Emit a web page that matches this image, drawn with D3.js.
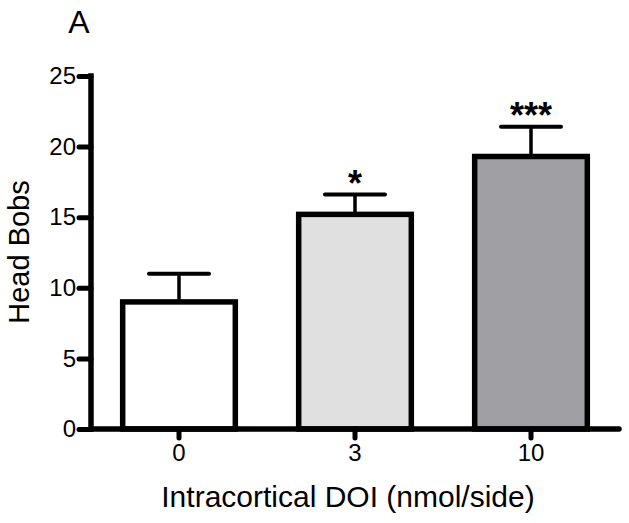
<!DOCTYPE html>
<html>
<head>
<meta charset="utf-8">
<script src="https://cdn.jsdelivr.net/npm/d3@7/dist/d3.min.js"></script>
<style>
  html, body { margin: 0; padding: 0; background: #fff; }
  svg { display: block; font-family: "Liberation Sans", Arial, sans-serif; }
</style>
</head>
<body>
<svg id="chart" width="629" height="523"></svg>
<script>
const categories = ["0", "3", "10"];
const means = [9.0, 15.2, 19.3];
const errors = [2.0, 1.4, 2.1];
const significance = ["", "*", "***"];
const fills = ["#ffffff", "#e0e0e0", "#a0a0a4"];
const yTicks = [0, 5, 10, 15, 20, 25];
const panelLabel = "A";
const xTitle = "Intracortical DOI (nmol/side)";
const yTitle = "Head Bobs";

const svg = d3.select("#chart");
const x0 = 91, x1 = 619, yTop = 76, yBot = 429;

const x = d3.scaleBand().domain(categories).range([x0, x1])
  .paddingInner(0.36).paddingOuter(0.18);
const y = d3.scaleLinear().domain([0, 25]).range([yBot, yTop]);

// bars
svg.append("g").selectAll("rect").data(categories).join("rect")
  .attr("x", d => x(d))
  .attr("y", (d, i) => y(means[i]))
  .attr("width", x.bandwidth())
  .attr("height", (d, i) => y(0) - y(means[i]))
  .attr("fill", (d, i) => fills[i])
  .attr("stroke", "#000")
  .attr("stroke-width", 5.5);

// error bars
const capW = 60;
const eb = svg.append("g");
categories.forEach((c, i) => {
  const cx = x(c) + x.bandwidth() / 2;
  eb.append("line").attr("x1", cx).attr("x2", cx)
    .attr("y1", y(means[i]) - 2).attr("y2", y(means[i] + errors[i]))
    .attr("stroke", "#000").attr("stroke-width", 3.5);
  eb.append("line").attr("x1", cx - capW / 2).attr("x2", cx + capW / 2)
    .attr("y1", y(means[i] + errors[i])).attr("y2", y(means[i] + errors[i]))
    .attr("stroke", "#000").attr("stroke-width", 4).attr("stroke-linecap", "round");
  if (significance[i]) {
    eb.append("text").attr("x", cx).attr("y", y(means[i] + errors[i]) + 1)
      .attr("text-anchor", "middle").attr("font-size", 36).attr("font-weight", "bold")
      .text(significance[i]);
  }
});

// y axis
const yAxis = d3.axisLeft(y).tickValues(yTicks).tickSize(12).tickPadding(3);
const gy = svg.append("g").attr("transform", `translate(${x0},0)`).call(yAxis);
gy.select(".domain").attr("d", `M0,${yTop}V${yBot}`).attr("stroke-width", 5.5).attr("stroke-linecap", "square");
gy.selectAll(".tick line").attr("stroke-width", 5).attr("stroke-linecap", "round");
gy.selectAll(".tick text").attr("font-size", 24).attr("font-family", "Liberation Sans, Arial, sans-serif").attr("fill", "#000");

// x axis
const xAxis = d3.axisBottom(x).tickSize(9).tickPadding(6);
const gx = svg.append("g").attr("transform", `translate(0,${yBot})`).call(xAxis);
gx.select(".domain").attr("d", `M${x0},0H${x1}`).attr("stroke-width", 5.5).attr("stroke-linecap", "round");
gx.selectAll(".tick line").attr("stroke-width", 5).attr("stroke-linecap", "round");
gx.selectAll(".tick text").attr("font-size", 24).attr("font-family", "Liberation Sans, Arial, sans-serif").attr("fill", "#000");

// titles
svg.append("text").attr("x", 79).attr("y", 33).attr("text-anchor", "middle")
  .attr("font-size", 32).text(panelLabel);
svg.append("text").attr("x", 348).attr("y", 507).attr("text-anchor", "middle")
  .attr("font-size", 30).text(xTitle);
svg.append("text").attr("transform", "translate(29,252) rotate(-90)")
  .attr("text-anchor", "middle").attr("font-size", 29).text(yTitle);
</script>
</body>
</html>
